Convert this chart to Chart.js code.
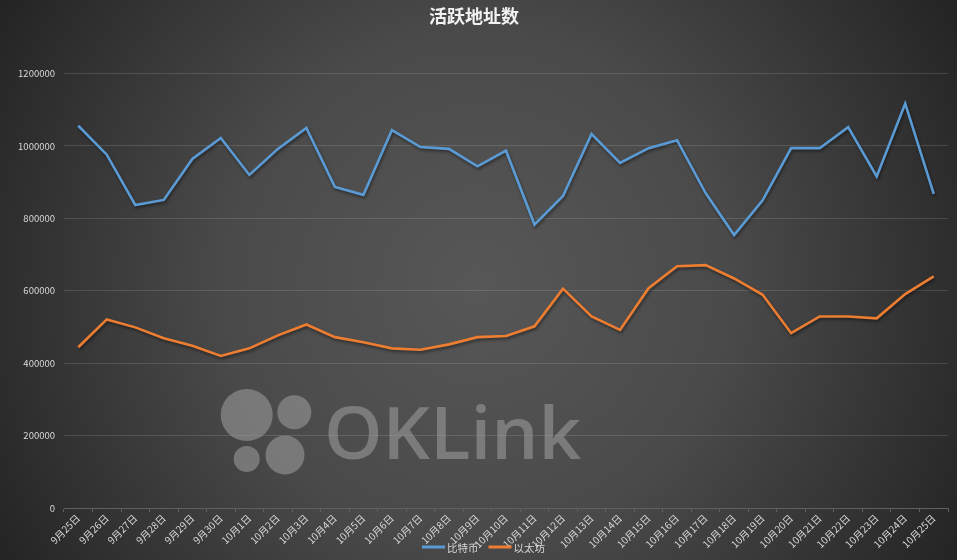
<!DOCTYPE html>
<html>
<head>
<meta charset="utf-8">
<script src="https://cdn.jsdelivr.net/npm/chart.js@4"></script>
<style>
html,body{margin:0;padding:0;background:#3a3a3a;}
#wrap{position:relative;width:957px;height:560px;}
</style>
</head>
<body>
<div id="wrap"><canvas id="c" width="957" height="560"></canvas></div>
<script>
const categories = ["9月25日","9月26日","9月27日","9月28日","9月29日","9月30日","10月1日","10月2日","10月3日","10月4日","10月5日","10月6日","10月7日","10月8日","10月9日","10月10日","10月11日","10月12日","10月13日","10月14日","10月15日","10月16日","10月17日","10月18日","10月19日","10月20日","10月21日","10月22日","10月23日","10月24日","10月25日"];
const btcValues = [1056000,976000,837000,851000,964000,1022000,920000,992000,1050000,887000,865000,1044000,997000,992000,944000,987000,783000,862000,1033000,953000,994000,1016000,870000,754000,850000,994000,994000,1052000,916000,1117000,868000];
const ethValues = [444000,521000,499000,469000,448000,420000,441000,477000,507000,472000,458000,441000,437000,452000,472000,475000,502000,606000,529000,492000,607000,668000,671000,634000,589000,483000,529000,529000,524000,591000,640000];
const seriesNames = ["比特币","以太坊"];
const seriesColors = ["#5b9bd5","#ed7d31"];
const yTicks = [0,200000,400000,600000,800000,1000000,1200000];
const titleText = "活跃地址数";
const watermarkText = "OKLink";

const FONT = "'Noto Sans CJK SC', 'Noto Sans', sans-serif";

const bgPlugin = {
  id: 'bg',
  beforeDraw(chart) {
    const ctx = chart.ctx;
    const w = chart.width, h = chart.height;
    ctx.save();
    const g = ctx.createRadialGradient(478, 285, 0, 478, 285, 560);
    g.addColorStop(0, '#575757');
    g.addColorStop(0.45, '#4a4a4a');
    g.addColorStop(1, '#232323');
    ctx.fillStyle = g;
    ctx.fillRect(0, 0, w, h);
    ctx.restore();
  },
  beforeDatasetsDraw(chart) {
    // watermark
    const ctx = chart.ctx;
    ctx.save();
    ctx.fillStyle = 'rgba(160,160,160,0.55)';
    const circles = [[246.7,415,26],[294.3,412.3,17],[246.7,459,13],[285,455,19.5]];
    circles.forEach(c => { ctx.beginPath(); ctx.arc(c[0], c[1], c[2], 0, Math.PI*2); ctx.fill(); });
    ctx.font = "600 72px 'Open Sans', 'Noto Sans', sans-serif";
    ctx.textBaseline = 'alphabetic';
    ctx.textAlign = 'left';
    const tw = ctx.measureText(watermarkText).width;
    ctx.translate(324, 459);
    ctx.scale(257 / tw, 1);
    ctx.fillText(watermarkText, 0, 0);
    ctx.restore();
  },
  beforeDatasetDraw(chart) {
    const ctx = chart.ctx;
    ctx.save();
    ctx.shadowColor = 'rgba(0,0,0,0.45)';
    ctx.shadowBlur = 3;
    ctx.shadowOffsetX = 1;
    ctx.shadowOffsetY = 2;
  },
  afterDatasetDraw(chart) {
    chart.ctx.restore();
  },
  afterDraw(chart) {
    // legend at bottom, overlapping labels like the original
    const ctx = chart.ctx;
    ctx.save();
    ctx.font = "10.5px " + FONT;
    ctx.textBaseline = 'middle';
    ctx.textAlign = 'left';
    const y = 547;
    const lineW = 23, gap = 2, itemGap = 10;
    let total = 0;
    const widths = seriesNames.map(n => ctx.measureText(n).width);
    widths.forEach((tw, i) => { total += lineW + gap + tw + (i < widths.length - 1 ? itemGap : 0); });
    let x = 422;
    seriesNames.forEach((n, i) => {
      ctx.strokeStyle = seriesColors[i];
      ctx.lineWidth = 3;
      ctx.beginPath();
      ctx.moveTo(x, y);
      ctx.lineTo(x + lineW, y);
      ctx.stroke();
      x += lineW + gap;
      ctx.fillStyle = '#d9d9d9';
      ctx.fillText(n, x, y + 1);
      x += widths[i] + itemGap;
    });
    ctx.restore();
  }
};

new Chart(document.getElementById('c'), {
  type: 'line',
  data: {
    labels: categories,
    datasets: [
      { label: seriesNames[0], data: btcValues, borderColor: seriesColors[0], backgroundColor: seriesColors[0], borderWidth: 2.6, pointRadius: 0, tension: 0, fill: false },
      { label: seriesNames[1], data: ethValues, borderColor: seriesColors[1], backgroundColor: seriesColors[1], borderWidth: 2.6, pointRadius: 0, tension: 0, fill: false }
    ]
  },
  options: {
    responsive: false,
    animation: false,
    devicePixelRatio: 1,
    layout: { padding: { left: 0, right: 9, top: 0, bottom: 0 } },
    plugins: {
      legend: { display: false },
      tooltip: { enabled: false },
      title: {
        display: true,
        text: titleText,
        color: '#f2f2f2',
        font: { family: FONT, size: 18, weight: 'bold' },
        padding: { top: 5, bottom: 47 }
      }
    },
    scales: {
      x: {
        offset: true,
        grid: { display: true, drawOnChartArea: false, drawTicks: true, tickLength: 4, color: '#5f5f5f', offset: true },
        border: { display: true, color: '#5f5f5f', width: 1 },
        ticks: { color: '#d9d9d9', font: { family: FONT, size: 10 }, minRotation: 45, maxRotation: 45, autoSkip: false, padding: 0 },
        afterFit(scale) { scale.height = 52; }
      },
      y: {
        min: 0,
        max: 1200000,
        afterBuildTicks(scale) { scale.ticks = yTicks.map(v => ({ value: v })); },
        grid: { color: 'rgba(255,255,255,0.13)', drawTicks: false, lineWidth: 1 },
        border: { display: false },
        ticks: { color: '#d9d9d9', font: { family: FONT, size: 9.5 }, padding: 9, callback: v => String(v) },
        afterFit(scale) { scale.width = 64; }
      }
    }
  },
  plugins: [bgPlugin]
});
</script>
</body>
</html>
